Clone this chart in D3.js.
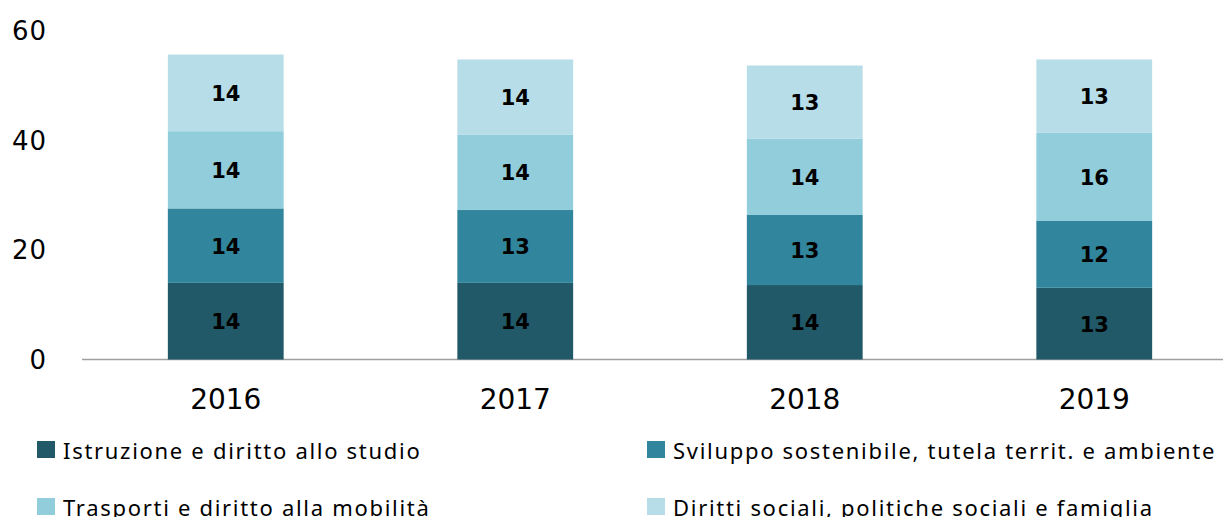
<!DOCTYPE html>
<html>
<head>
<meta charset="utf-8">
<script src="https://cdn.jsdelivr.net/npm/d3@7"></script>
<style>
  body { margin: 0; background: #fff; }
  #chart { width: 1223px; height: 517px; }
  text { fill: #000; }
</style>
</head>
<body>
<div id="chart"></div>
<script>
const years = ["2016", "2017", "2018", "2019"];
const seriesNames = [
  "Istruzione e diritto allo studio",
  "Sviluppo sostenibile, tutela territ. e ambiente",
  "Trasporti e diritto alla mobilità",
  "Diritti sociali, politiche sociali e famiglia",
];
const istruzione = [14.0, 14.0, 13.6, 13.1];
const sviluppo = [13.6, 13.3, 12.8, 12.2];
const trasporti = [14.1, 13.8, 13.9, 16.1];
const diritti = [14.0, 13.7, 13.4, 13.4];
const yTicks = [0, 20, 40, 60];

const colors = ["#215968", "#31859c", "#92cddc", "#b7dee8"];

const width = 1223, height = 517;
const container = d3.select("#chart");
const svg = container.append("svg").attr("width", width).attr("height", height);

const rows = years.map((y, i) => ({
  year: y,
  s0: istruzione[i],
  s1: sviluppo[i],
  s2: trasporti[i],
  s3: diritti[i],
}));
const keys = ["s0", "s1", "s2", "s3"];
const stacked = d3.stack().keys(keys)(rows);

const xScale = d3.scaleBand()
  .domain(years)
  .range([81, 1239])
  .paddingInner(0.6)
  .paddingOuter(0.3);

const yScale = d3.scaleLinear().domain([0, 60]).range([359.5, 31]);

// baseline
svg.append("line")
  .attr("x1", 82).attr("x2", width)
  .attr("y1", yScale(0)).attr("y2", yScale(0))
  .attr("stroke", "#a0a0a0").attr("stroke-width", 1.5);

// y tick labels
svg.append("g")
  .selectAll("text")
  .data(yTicks)
  .enter()
  .append("text")
  .attr("x", 47)
  .attr("y", (d) => yScale(d))
  .attr("text-anchor", "end")
  .attr("dominant-baseline", "central")
  .style("font-family", "DejaVu Sans")
  .style("font-size", "26px")
  .style("letter-spacing", "1px")
  .text((d) => d);

// x axis labels
const xAxis = svg.append("g")
  .attr("transform", `translate(0, ${yScale(0)})`)
  .call(d3.axisBottom(xScale).tickSize(0).tickPadding(0));
xAxis.select(".domain").remove();
xAxis.selectAll("text")
  .attr("y", 40)
  .attr("dy", null)
  .attr("dominant-baseline", "central")
  .style("font-family", "DejaVu Sans")
  .style("font-size", "28px")
  .style("fill", "#000");

// bars
const layers = svg.append("g")
  .selectAll("g")
  .data(stacked)
  .enter()
  .append("g")
  .attr("fill", (d, i) => colors[i]);

layers.selectAll("rect")
  .data((d) => d)
  .enter()
  .append("rect")
  .attr("x", (d) => xScale(d.data.year))
  .attr("width", xScale.bandwidth())
  .attr("y", (d) => yScale(d[1]))
  .attr("height", (d) => yScale(d[0]) - yScale(d[1]));

// value labels
const fmt = d3.format(".0f");
layers.selectAll("text")
  .data((d) => d)
  .enter()
  .append("text")
  .attr("x", (d) => xScale(d.data.year) + xScale.bandwidth() / 2)
  .attr("y", (d) => (yScale(d[0]) + yScale(d[1])) / 2 + 1)
  .attr("text-anchor", "middle")
  .attr("dominant-baseline", "central")
  .style("font-family", "DejaVu Sans")
  .style("font-weight", "bold")
  .style("font-size", "21px")
  .style("fill", "#000")
  .text((d) => fmt(d[1] - d[0]));

// legend
const legendPos = [
  { x: 37, y: 441 },
  { x: 647, y: 441 },
  { x: 37, y: 498 },
  { x: 647, y: 498 },
];
const legend = svg.append("g")
  .selectAll("g")
  .data(seriesNames)
  .enter()
  .append("g")
  .attr("transform", (d, i) => `translate(${legendPos[i].x}, ${legendPos[i].y})`);

legend.append("rect")
  .attr("width", 18)
  .attr("height", 17)
  .attr("fill", (d, i) => colors[i]);

legend.append("text")
  .attr("x", 26)
  .attr("y", 8.5)
  .attr("dominant-baseline", "central")
  .style("font-family", "Noto Sans")
  .style("font-size", "22px")
  .style("letter-spacing", "1.7px")
  .text((d) => d);
</script>
</body>
</html>
